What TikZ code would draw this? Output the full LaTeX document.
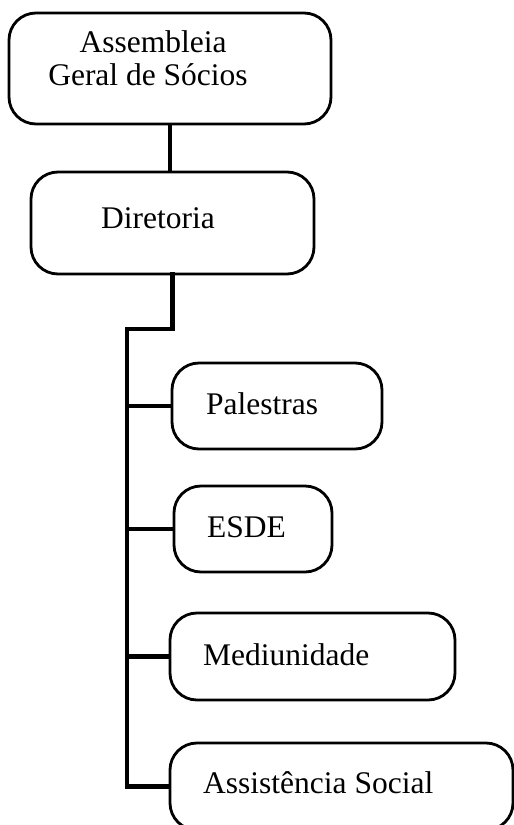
\documentclass[tikz,border=0pt]{standalone}
\usepackage{fontspec}
\setmainfont{Liberation Serif}
\begin{document}
\begin{tikzpicture}[x=1pt,y=-1pt,
  orgbox/.style={draw=black,line width=2.8pt,rounded corners=27pt,inner sep=0pt},
  lbl/.style={anchor=base west,inner sep=0pt,font=\fontsize{31.5}{33}\selectfont},
  clbl/.style={anchor=base,inner sep=0pt,font=\fontsize{31.5}{33}\selectfont},
  conn/.style={line width=4.5pt}]
\useasboundingbox (0,0) rectangle (514,825);
\clip (0,0) rectangle (514,825);
\node[orgbox,minimum width=322pt,minimum height=111pt] (ag) at (170,68.5) {};
\node[orgbox,minimum width=283pt,minimum height=102pt] (dir) at (172.5,223) {};
\node[orgbox,minimum width=210pt,minimum height=86pt] (pal) at (277,406) {};
\node[orgbox,minimum width=158pt,minimum height=86pt] (esde) at (253,529) {};
\node[orgbox,minimum width=285pt,minimum height=87pt] (med) at (312.5,656.5) {};
\node[orgbox,minimum width=343pt,minimum height=87pt] (as) at (341.5,786.5) {};
\node[clbl] (tag1) at (153,52) {Assembleia};
\node[clbl] (tag2) at (148,85) {Geral de Sócios};
\node[lbl] (tdir) at (101,228) {Diretoria};
\node[lbl] (tpal) at (206,414) {Palestras};
\node[lbl] (tesde) at (207,537) {ESDE};
\node[lbl] (tmed) at (203,665) {Mediunidade};
\node[lbl] (tas) at (203,793) {Assistência Social};
\coordinate (ctop) at (127,329);
\draw[conn] (ag.south) -- (ag.south |- dir.north);
\draw[conn] ([yshift=3pt]dir.south) |- (ctop) -- (ctop |- as.west) -- (as.west);
\draw[conn] (ctop |- pal.west) -- (pal.west);
\draw[conn] (ctop |- esde.west) -- (esde.west);
\draw[conn] (ctop |- med.west) -- (med.west);
\end{tikzpicture}
\end{document}
